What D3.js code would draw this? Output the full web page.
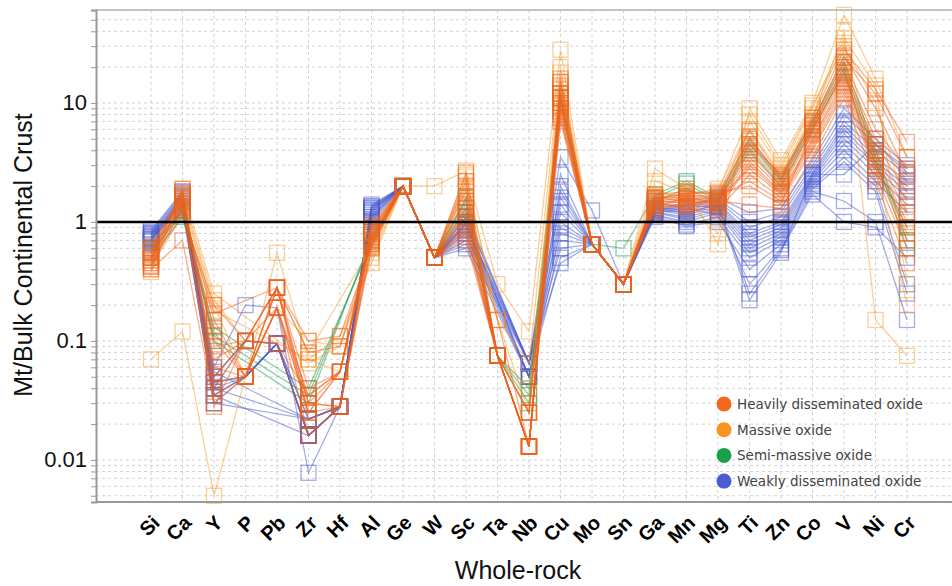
<!DOCTYPE html>
<html>
<head>
<meta charset="utf-8">
<script src="https://cdn.jsdelivr.net/npm/d3@7"></script>
<style>
  body { margin: 0; background: #fff; }
  svg { display: block; }
</style>
</head>
<body>
<script>
// Elements along the x axis
const elements = ['Si', 'Ca', 'Y', 'P', 'Pb', 'Zr', 'Hf', 'Al', 'Ge', 'W', 'Sc', 'Ta', 'Nb',
  'Cu', 'Mo', 'Sn', 'Ga', 'Mn', 'Mg', 'Ti', 'Zn', 'Co', 'V', 'Ni', 'Cr'];

const groupNames = ['Heavily disseminated oxide', 'Massive oxide', 'Semi-massive oxide', 'Weakly disseminated oxide'];

const yTickValues = [0.01, 0.1, 1, 10];
const yTickLabels = ['0.01', '0.1', '1', '10'];

// Mt / bulk continental crust, one row per sample (null = not analysed)
const heavilyValues = [
  [0.42, 1.15, 0.2, 0.1, 0.28, 0.1, 0.11, 0.62, 2, 0.5, 2.6, 0.075, 0.013, 16, 0.65, 0.3, 1.7, 1.8, 1.7, 5.8, 2.4, 7.5, 28, 13, 4.7],
  [0.45, 1.25, 0.17, null, 0.28, 0.08, 0.09, 0.68, 2, 0.5, 2.2, 0.075, 0.013, 14, 0.65, 0.3, 1.6, 1.7, 1.6, 5.2, 2.3, 7, 24, 12, 3.5],
  [0.48, 1.35, 0.15, 0.05, 0.28, 0.04, 0.055, 0.72, 2, 0.5, 2.0, 0.075, 0.013, 13, 0.65, 0.3, 1.55, 1.65, 1.55, 4.8, 2.2, 6.5, 22, 6, 2.8],
  [0.5, 1.4, 0.12, 0.05, 0.19, 0.035, 0.055, 0.75, 2, 0.5, 1.8, 0.075, 0.013, 12, 0.65, 0.3, 1.5, 1.6, 1.5, 4.2, 2.1, 6.2, 20, 5, 2.2],
  [0.52, 1.5, 0.1, 0.05, 0.19, 0.03, 0.055, 0.78, 2, 0.5, 1.6, 0.075, 0.025, 11, 0.65, 0.3, 1.45, 1.55, 1.45, 3.8, 2.0, 6, 18, 4.5, 1.8],
  [0.55, 1.55, 0.09, 0.1, 0.19, 0.025, 0.028, 0.8, 2, 0.5, 1.4, 0.075, 0.013, 10, 0.65, 0.3, 1.4, 1.5, 1.4, 3.5, 1.9, 5.5, 17, 4, 1.5],
  [0.58, 1.6, 0.07, 0.1, 0.28, 0.025, 0.055, 0.85, 2, 0.5, 1.3, 0.075, 0.013, 9.5, 0.65, 0.3, 1.5, 1.45, 1.35, 3.2, 1.8, 5, 16, 3.8, 1.2],
  [0.6, 1.7, 0.06, 0.05, 0.28, 0.03, 0.028, 0.9, 2, 0.5, 1.2, 0.15, 0.013, 9, 0.65, 0.3, 1.35, 1.4, 1.3, 3, 1.75, 4.8, 15, 3.5, 1.0],
  [0.62, 1.8, 0.05, 0.1, 0.095, 0.035, 0.055, 0.95, 2, 0.5, 1.1, 0.075, 0.025, 8.5, 0.65, 0.3, 1.3, 1.35, 1.55, 2.8, 1.7, 4.5, 14, 3.2, 0.9],
  [0.47, 1.9, 0.045, 0.05, 0.19, 0.016, 0.028, 0.7, 2, 0.5, 1.0, 0.075, 0.013, 8, 0.65, 0.3, 1.45, 1.3, 1.25, 2.5, 1.6, 4.2, 13, 3, 0.8],
  [0.43, 1.3, 0.04, 0.1, 0.28, 0.022, 0.028, 0.65, 2, 0.5, 0.9, 0.075, 0.025, 7.5, 0.65, 0.3, 1.6, 1.5, 1.65, 2.2, 1.5, 4, 12, 2.8, 0.7],
  [0.5, 1.45, 0.035, 0.05, 0.19, 0.025, 0.055, 0.82, 2, 0.5, 0.85, 0.075, 0.013, 7, 0.65, 0.3, 1.55, 1.75, 1.75, 2.0, 1.4, 5.8, 19, 2.5, 0.6],
  [0.4, 0.7, 0.03, 0.05, 0.28, 0.03, 0.028, 0.6, 2, 0.5, 0.8, 0.075, 0.013, 15, 0.65, 0.3, 1.35, 1.6, 1.45, 4.5, 2.5, 6.8, 25, 9, 2.5],
  [0.56, 1.65, 0.028, 0.1, 0.095, 0.016, 0.028, 0.88, 2, 0.5, 0.7, 0.075, 0.013, 11, 0.65, 0.3, 1.25, 1.45, 1.5, 1.4, 1.3, 3.5, 11, 2.2, 0.45]
];

const massiveValues = [
  [0.07, 0.12, 0.005, 0.05, 0.55, 0.07, 0.11, 0.45, 2, 2, 2.7, 0.3, 0.12, 28, 0.65, 0.3, 2.8, 1.9, 0.65, 9, 3.3, 10, 55, 16, 3.5],
  [0.38, 1.9, 0.25, null, null, 0.065, 0.09, 0.55, 2, 0.5, 2.4, 0.15, 0.065, 20, 0.65, 0.3, 1.9, 1.5, 0.8, 7, 2.8, 9, 35, 14, 0.3],
  [0.42, 1.7, 0.22, 0.1, 0.28, 0.08, null, 0.62, 2, 0.5, 2.2, 0.075, 0.04, 15, 0.65, 0.3, 1.7, 1.7, 1.9, 6, 2.6, 8, 32, 3, 0.2],
  [0.45, 1.5, 0.18, null, null, 0.07, 0.055, 0.7, 2, 0.5, 1.9, 0.075, 0.025, 12, 0.65, 0.3, 1.6, 1.6, 1.7, 5, 2.4, 7.5, 40, 0.15, 0.075],
  [0.4, 1.6, 0.2, 0.05, 0.19, 0.1, 0.09, 0.5, 2, 0.5, 2.5, 0.15, 0.025, 18, 0.65, 0.3, 2.2, 1.8, 1.8, 8, 3, 9.5, 30, 10, 1.2]
];

const semiMassiveValues = [
  [0.5, 1.1, 0.13, null, null, 0.04, null, 0.65, 2, 0.5, 1.6, 0.075, 0.04, 12, 0.65, 0.6, 1.7, 2.2, 1.6, 5, 2.3, 7, 22, 4, 0.7],
  [0.55, 1.2, 0.11, null, null, 0.035, null, 0.7, 2, 0.5, 1.5, 0.075, 0.035, 11, 0.65, 0.3, 1.6, 2.1, 1.5, 4.5, 2.2, 6.5, 20, 3.5, 0.6],
  [0.6, 1.25, 0.1, null, null, 0.03, null, 0.75, 2, 0.5, 1.3, 0.075, 0.03, 10, 0.65, 0.3, 1.5, 1.9, 1.45, 4, 2.0, 6, 18, 3, 0.9]
];

const weaklyValues = [
  [0.85, 1.8, 0.06, 0.2, 0.19, 0.0078, 0.028, 1.4, 2, 0.5, 1.2, null, 0.065, 3.5, 1.25, 0.3, 1.4, 1.4, 1.6, 1.2, 1.3, 3.3, 9, 5, 3],
  [0.82, 1.75, 0.05, 0.1, 0.095, 0.016, 0.028, 1.35, 2, 0.5, 1.1, null, 0.065, 2.5, 0.65, 0.3, 1.35, 1.35, 1.55, 1.0, 1.2, 3, 8, 4.5, 2.8],
  [0.8, 1.7, 0.045, 0.05, 0.095, 0.016, 0.028, 1.3, 2, 0.5, 1.0, null, 0.05, 2, 0.65, 0.3, 1.3, 1.3, 1.5, 0.9, 1.1, 2.8, 7, 4, 2.5],
  [0.78, 1.65, 0.04, 0.05, 0.095, 0.022, 0.028, 1.25, 2, 0.5, 0.95, null, 0.065, 1.8, 0.65, 0.3, 1.3, 1.25, 1.45, 0.8, 1.0, 2.6, 6.5, 3.5, 2.2],
  [0.76, 1.6, 0.04, 0.1, 0.095, 0.016, 0.028, 1.2, 2, 0.5, 0.9, null, 0.05, 1.6, 0.65, 0.3, 1.25, 1.2, 1.4, 0.75, 0.95, 2.5, 6, 3.2, 2.0],
  [0.75, 1.55, 0.035, 0.05, 0.095, 0.022, 0.028, 1.15, 2, 0.5, 0.85, null, 0.065, 1.4, 0.65, 0.3, 1.25, 1.15, 1.35, 0.7, 0.9, 2.4, 5.5, 3, 1.8],
  [0.72, 1.5, 0.035, null, null, 0.016, 0.028, 1.1, 2, 0.5, 0.8, null, 0.05, 1.2, 0.65, 0.3, 1.2, 1.1, 1.3, 0.65, 0.85, 2.3, 5, 2.8, 1.6],
  [0.7, 1.45, 0.03, 0.05, 0.095, 0.016, 0.028, 1.05, 2, 0.5, 0.75, null, 0.065, 1.0, 0.65, 0.3, 1.2, 1.05, 1.25, 0.6, 0.8, 2.2, 4.5, 2.5, 1.4],
  [0.68, 1.4, 0.03, null, null, 0.022, 0.028, 1.0, 2, 0.5, 0.7, null, 0.05, 0.9, 0.65, 0.3, 1.15, 1.0, 1.2, 0.55, 0.75, 2.1, 4, 2.2, 1.2],
  [0.8, 1.35, 0.05, 0.1, 0.095, 0.016, 0.028, 1.3, 2, 0.5, 0.65, null, 0.065, 0.8, 0.65, 0.3, 1.15, 0.95, 1.1, 0.5, 0.7, 2.0, 3.5, 2, 0.3],
  [0.74, 1.3, 0.04, null, null, 0.022, 0.028, 1.2, 2, 0.5, 0.6, null, 0.05, 0.7, 0.65, 0.3, 1.1, 0.92, 1.0, 0.4, 0.65, 1.9, 3.2, 1.8, 0.25],
  [0.65, 1.25, 0.035, 0.05, 0.095, 0.016, 0.028, 1.1, 2, 0.5, 0.95, null, 0.065, 0.6, 0.65, 0.3, 1.2, 1.3, 1.15, 0.3, 0.6, 1.8, 1.5, 1, 0.15],
  [0.7, 1.5, 0.055, null, null, 0.022, 0.028, 1.25, 2, 0.5, 1.0, null, 0.05, 0.5, 0.65, 0.3, 1.3, 1.2, 1.4, 0.25, 0.58, 1.7, 1.0, 0.9, 0.5],
  [0.72, 1.6, 0.045, 0.05, 0.095, 0.016, 0.028, 1.35, 2, 0.5, 1.1, null, 0.065, 0.45, 0.65, 0.3, 1.25, 1.35, 1.35, 0.22, 0.55, 2.5, 2.5, 4.5, 2.6]
];

// Layout
const width = 952;
const height = 586;
const plotLeft = 96;
const plotTop = 10;
const plotBottom = 502;

const colors = ['#f0621c', '#f8a033', '#1c9c48', '#4a5bd2'];
const legendColors = ['#f4661b', '#f7941d', '#1aa049', '#4a5bd3'];

const svg = d3.select('body')
  .append('svg')
  .attr('width', width)
  .attr('height', height)
  .style('font-family', 'Liberation Sans, Arial, sans-serif');

const x = d3.scalePoint().domain(elements).range([151, 907]);
const y = d3.scaleLog().domain([0.00443, 60.4]).range([plotBottom, plotTop]);

// Grid
const grid = svg.append('g').attr('stroke', '#d2d2d2').attr('stroke-dasharray', '3,3').attr('stroke-width', 1);
grid.selectAll('line.h')
  .data(y.ticks())
  .enter()
  .append('line')
  .attr('x1', plotLeft)
  .attr('x2', width)
  .attr('y1', (d) => y(d))
  .attr('y2', (d) => y(d));
grid.selectAll('line.v')
  .data(elements)
  .enter()
  .append('line')
  .attr('x1', (d) => x(d))
  .attr('x2', (d) => x(d))
  .attr('y1', plotTop)
  .attr('y2', plotBottom);

// Samples
const groups = [
  { values: weaklyValues, color: colors[3], opacity: 0.5 },
  { values: semiMassiveValues, color: colors[2], opacity: 0.5 },
  { values: massiveValues, color: colors[1], opacity: 0.5 },
  { values: heavilyValues, color: colors[0], opacity: 0.5 }
];

const line = d3.line().x((d) => x(d.e)).y((d) => y(d.v));
const sq = 15;

groups.forEach((g) => {
  g.values.forEach((row) => {
    const pts = elements.map((e, i) => ({ e, v: row[i] })).filter((d) => d.v != null);
    const s = svg.append('g')
      .attr('stroke', g.color)
      .attr('stroke-opacity', g.opacity)
      .attr('fill', 'none');
    s.append('path')
      .attr('d', line(pts))
      .attr('stroke-width', 1.3);
    s.selectAll('rect')
      .data(pts)
      .enter()
      .append('rect')
      .attr('x', (d) => x(d.e) - sq / 2)
      .attr('y', (d) => y(d.v) - sq / 2)
      .attr('width', sq)
      .attr('height', sq)
      .attr('stroke-width', 1.3);
  });
});

// Reference line at 1
svg.append('line')
  .attr('x1', plotLeft)
  .attr('x2', width)
  .attr('y1', y(1))
  .attr('y2', y(1))
  .attr('stroke', '#000')
  .attr('stroke-width', 2.5);

// Frame
svg.append('line')
  .attr('x1', plotLeft).attr('x2', width)
  .attr('y1', plotTop).attr('y2', plotTop)
  .attr('stroke', '#b5b5b5').attr('stroke-width', 1.5);
svg.append('line')
  .attr('x1', plotLeft).attr('x2', width)
  .attr('y1', plotBottom).attr('y2', plotBottom)
  .attr('stroke', '#999').attr('stroke-width', 2);

// Y axis
const yAxis = d3.axisLeft(y)
  .tickValues(y.ticks())
  .tickSize(5)
  .tickPadding(4)
  .tickFormat((d) => {
    const i = yTickValues.indexOf(d);
    return i >= 0 ? yTickLabels[i] : '';
  });
const ya = svg.append('g')
  .attr('transform', `translate(${plotLeft},0)`)
  .call(yAxis);
ya.select('.domain').attr('stroke', '#999').attr('stroke-width', 2);
ya.selectAll('.tick line').attr('stroke', '#999');
ya.selectAll('.tick text')
  .attr('fill', '#111')
  .style('font-size', '22px')
  .style('font-family', 'Liberation Sans, Arial, sans-serif');

// X tick labels
svg.append('g')
  .selectAll('text')
  .data(elements)
  .enter()
  .append('text')
  .attr('transform', (d) => `translate(${x(d) + 10},${plotBottom + 22}) rotate(-45)`)
  .attr('text-anchor', 'end')
  .style('font-size', '20px')
  .style('font-weight', 'bold')
  .attr('fill', '#000')
  .text((d) => d);

// Axis titles
svg.append('text')
  .attr('transform', `translate(32,255) rotate(-90)`)
  .attr('text-anchor', 'middle')
  .style('font-size', '25px')
  .attr('fill', '#111')
  .text('Mt/Bulk Continental Crust');

svg.append('text')
  .attr('x', 518)
  .attr('y', 579)
  .attr('text-anchor', 'middle')
  .style('font-size', '25px')
  .attr('fill', '#111')
  .text('Whole-rock');

// Legend
const legend = svg.append('g').attr('transform', 'translate(724,404)');
const items = legend.selectAll('g')
  .data(groupNames)
  .enter()
  .append('g')
  .attr('transform', (d, i) => `translate(0,${i * 25.7})`);
items.append('circle')
  .attr('r', 7.5)
  .attr('fill', (d, i) => legendColors[i]);
items.append('text')
  .attr('x', 13)
  .attr('y', 5)
  .style('font-family', 'DejaVu Sans, Verdana, sans-serif')
  .style('font-size', '13.5px')
  .attr('fill', '#444')
  .text((d) => d);
</script>
</body>
</html>
